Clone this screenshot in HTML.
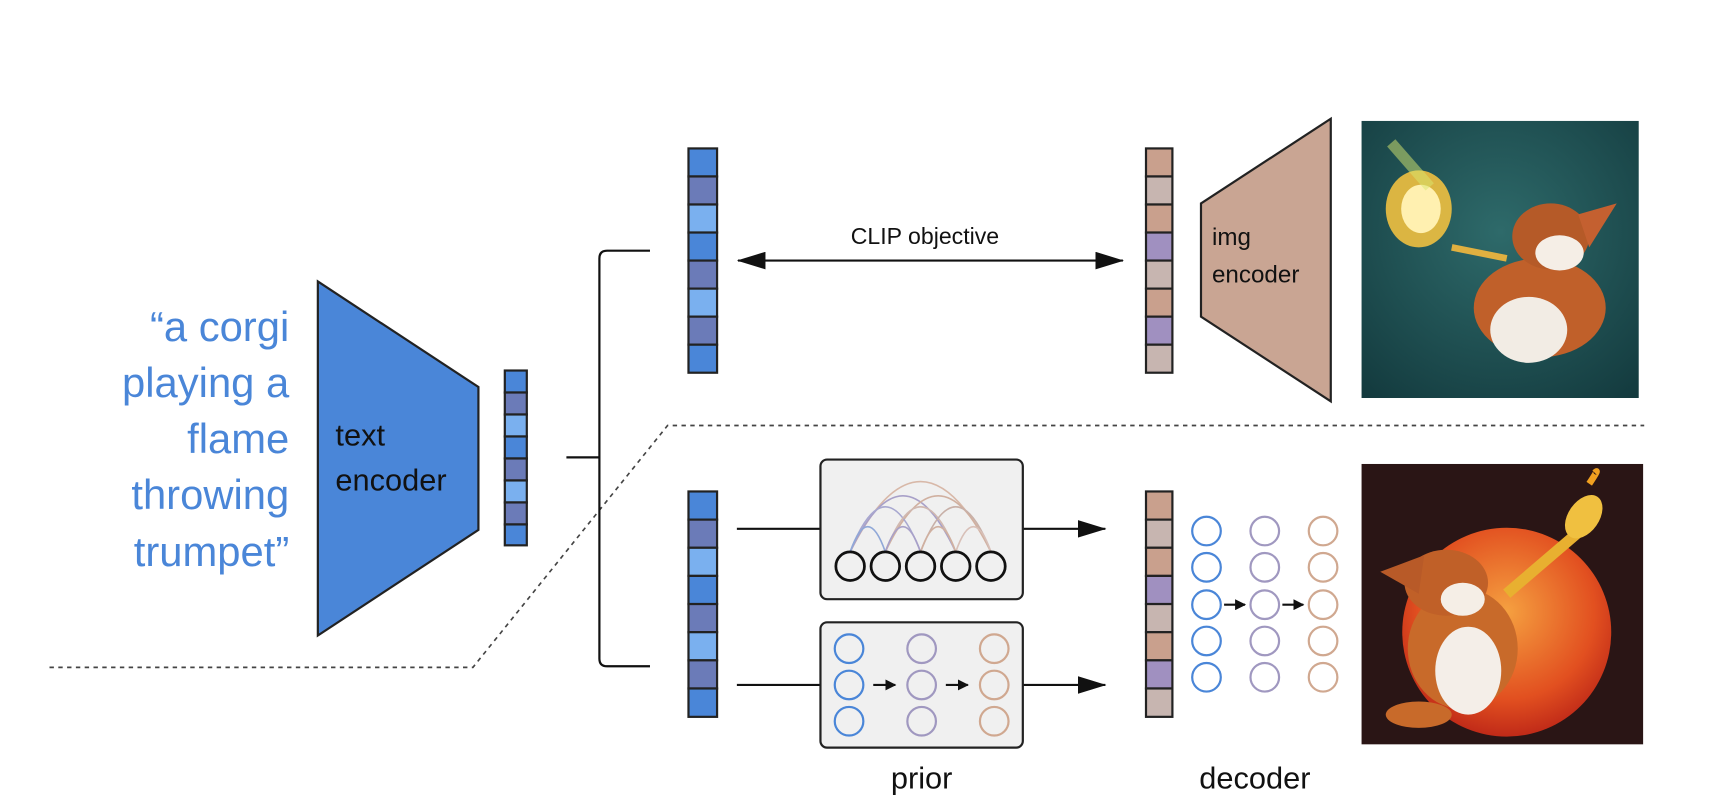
<!DOCTYPE html>
<html><head><meta charset="utf-8"><style>
html,body{margin:0;padding:0;background:#fff;}
svg{display:block;}
text{font-family:"Liberation Sans","DejaVu Sans",sans-serif;}
</style></head><body>
<svg width="1730" height="807" viewBox="0 0 1573 734" preserveAspectRatio="none" xmlns="http://www.w3.org/2000/svg">
<defs>
<marker id="ah" markerWidth="10" markerHeight="10" refX="9" refY="5" orient="auto" markerUnits="userSpaceOnUse"><path d="M0,0 L10,5 L0,10 z" fill="#111"/></marker>
<marker id="big" markerWidth="26" markerHeight="16" refX="25" refY="8" orient="auto-start-reverse" markerUnits="userSpaceOnUse"><path d="M0,0 L26,8 L0,16 z" fill="#111"/></marker>
<radialGradient id="teal" cx="0.5" cy="0.4" r="0.8"><stop offset="0" stop-color="#2e6a6a"/><stop offset="1" stop-color="#12383c"/></radialGradient>
<radialGradient id="sun" cx="0.5" cy="0.4" r="0.6"><stop offset="0" stop-color="#f5a040"/><stop offset="0.7" stop-color="#e25020"/><stop offset="1" stop-color="#c02a18"/></radialGradient>
</defs>

<path d="M45,607 L430,607 L607,387 L1495,387" fill="none" stroke="#444" stroke-width="1.5" stroke-dasharray="4,4"/>

<g fill="#4a86d8" font-size="38" text-anchor="end">
<text x="263" y="310">“a corgi</text>
<text x="263" y="361">playing a</text>
<text x="263" y="412">flame</text>
<text x="263" y="463">throwing</text>
<text x="263" y="515">trumpet”</text>
</g>

<path d="M289,256 L435,352 L435,482 L289,578 Z" fill="#4a86d8" stroke="#222" stroke-width="2"/>
<text x="305" y="405" font-size="28" fill="#111">text</text>
<text x="305" y="446" font-size="28" fill="#111">encoder</text>

<g stroke="#222" stroke-width="2">
<rect x="459" y="337" width="20" height="20" fill="#4a86d8"/>
<rect x="459" y="357" width="20" height="20" fill="#6b7bb8"/>
<rect x="459" y="377" width="20" height="20" fill="#7ab0ef"/>
<rect x="459" y="397" width="20" height="20" fill="#4a86d8"/>
<rect x="459" y="417" width="20" height="20" fill="#6b7bb8"/>
<rect x="459" y="437" width="20" height="20" fill="#7ab0ef"/>
<rect x="459" y="457" width="20" height="20" fill="#6b7bb8"/>
<rect x="459" y="477" width="20" height="19" fill="#4a86d8"/>
</g>

<path d="M515,416 L545,416 M591,228 L552,228 Q545,228 545,235 L545,599 Q545,606 552,606 L591,606" fill="none" stroke="#111" stroke-width="2"/>

<g stroke="#222" stroke-width="2">
<rect x="626" y="135" width="26" height="25.5" fill="#4a86d8"/>
<rect x="626" y="160.5" width="26" height="25.5" fill="#6b7bb8"/>
<rect x="626" y="186" width="26" height="25.5" fill="#7ab0ef"/>
<rect x="626" y="211.5" width="26" height="25.5" fill="#4a86d8"/>
<rect x="626" y="237" width="26" height="25.5" fill="#6b7bb8"/>
<rect x="626" y="262.5" width="26" height="25.5" fill="#7ab0ef"/>
<rect x="626" y="288" width="26" height="25.5" fill="#6b7bb8"/>
<rect x="626" y="313.5" width="26" height="25.5" fill="#4a86d8"/>
</g>

<line x1="671" y1="237" x2="1021" y2="237" stroke="#111" stroke-width="2" marker-start="url(#big)" marker-end="url(#big)"/>
<text x="841" y="222" font-size="21" fill="#111" text-anchor="middle">CLIP objective</text>

<g stroke="#222" stroke-width="2">
<rect x="1042" y="135" width="24" height="25.5" fill="#c9a08d"/>
<rect x="1042" y="160.5" width="24" height="25.5" fill="#c7b5b0"/>
<rect x="1042" y="186" width="24" height="25.5" fill="#c9a08d"/>
<rect x="1042" y="211.5" width="24" height="25.5" fill="#a090c0"/>
<rect x="1042" y="237" width="24" height="25.5" fill="#c7b5b0"/>
<rect x="1042" y="262.5" width="24" height="25.5" fill="#c9a08d"/>
<rect x="1042" y="288" width="24" height="25.5" fill="#a090c0"/>
<rect x="1042" y="313.5" width="24" height="25.5" fill="#c7b5b0"/>
</g>

<path d="M1092,185 L1210,108 L1210,365 L1092,288 Z" fill="#c9a593" stroke="#222" stroke-width="2"/>
<text x="1102" y="223" font-size="22" fill="#111">img</text>
<text x="1102" y="257" font-size="22" fill="#111">encoder</text>

<rect x="1238" y="110" width="252" height="252" fill="url(#teal)"/>
<ellipse cx="1290" cy="190" rx="30" ry="35" fill="#f0c040" opacity="0.9"/>
<ellipse cx="1292" cy="190" rx="18" ry="22" fill="#fff0b0"/>
<path d="M1265,130 L1300,170" stroke="#d8e870" stroke-width="10" opacity="0.5"/>
<ellipse cx="1400" cy="280" rx="60" ry="45" fill="#c0602a"/>
<ellipse cx="1390" cy="300" rx="35" ry="30" fill="#f2ece4"/>
<ellipse cx="1410" cy="215" rx="35" ry="30" fill="#b55a28"/>
<ellipse cx="1418" cy="230" rx="22" ry="16" fill="#f5eee6"/>
<path d="M1435,195 L1470,185 L1445,225 Z" fill="#c46030"/>
<path d="M1320,225 L1370,235" stroke="#e0b040" stroke-width="6"/>

<g stroke="#222" stroke-width="2">
<rect x="626" y="447" width="26" height="25.6" fill="#4a86d8"/>
<rect x="626" y="472.6" width="26" height="25.6" fill="#6b7bb8"/>
<rect x="626" y="498.2" width="26" height="25.6" fill="#7ab0ef"/>
<rect x="626" y="523.8" width="26" height="25.6" fill="#4a86d8"/>
<rect x="626" y="549.4" width="26" height="25.6" fill="#6b7bb8"/>
<rect x="626" y="575" width="26" height="25.6" fill="#7ab0ef"/>
<rect x="626" y="600.6" width="26" height="25.6" fill="#6b7bb8"/>
<rect x="626" y="626.2" width="26" height="25.8" fill="#4a86d8"/>
</g>

<g stroke="#111" stroke-width="2" fill="none">
<line x1="670" y1="481" x2="746" y2="481"/>
<line x1="670" y1="623" x2="746" y2="623"/>
<line x1="930" y1="481" x2="1005" y2="481" marker-end="url(#big)"/>
<line x1="930" y1="623" x2="1005" y2="623" marker-end="url(#big)"/>
</g>

<rect x="746" y="418" width="184" height="127" rx="6" fill="#f0f0f0" stroke="#222" stroke-width="2"/>
<g fill="none" stroke-width="1.5">
<path d="M773,502 Q837,374 901,502" stroke="#d8b8a8"/>
<path d="M773,502 Q821,400 869,502" stroke="#a8a0c8"/>
<path d="M805,502 Q853,400 901,502" stroke="#d0b0a0"/>
<path d="M773,502 Q805,420 837,502" stroke="#a8a8d0"/>
<path d="M805,502 Q837,420 869,502" stroke="#d0b8b0"/>
<path d="M837,502 Q869,420 901,502" stroke="#c8b0a8"/>
<path d="M773,502 Q789,456 805,502" stroke="#90a8d8"/>
<path d="M805,502 Q821,456 837,502" stroke="#a8a0c8"/>
<path d="M837,502 Q853,456 869,502" stroke="#d0b0a0"/>
<path d="M869,502 Q885,456 901,502" stroke="#d8c0b8"/>
</g>
<g fill="none" stroke="#111" stroke-width="2.5">
<circle cx="773" cy="515" r="13"/><circle cx="805" cy="515" r="13"/><circle cx="837" cy="515" r="13"/><circle cx="869" cy="515" r="13"/><circle cx="901" cy="515" r="13"/>
</g>

<rect x="746" y="566" width="184" height="114" rx="6" fill="#f0f0f0" stroke="#222" stroke-width="2"/>
<g fill="none" stroke-width="2">
<g stroke="#4a86d8"><circle cx="772" cy="590" r="13"/><circle cx="772" cy="623" r="13"/><circle cx="772" cy="656" r="13"/></g>
<g stroke="#a098c0"><circle cx="838" cy="590" r="13"/><circle cx="838" cy="623" r="13"/><circle cx="838" cy="656" r="13"/></g>
<g stroke="#d0a890"><circle cx="904" cy="590" r="13"/><circle cx="904" cy="623" r="13"/><circle cx="904" cy="656" r="13"/></g>
<line x1="794" y1="623" x2="814" y2="623" stroke="#111" marker-end="url(#ah)"/>
<line x1="860" y1="623" x2="880" y2="623" stroke="#111" marker-end="url(#ah)"/>
</g>

<g stroke="#222" stroke-width="2">
<rect x="1042" y="447" width="24" height="25.6" fill="#c9a08d"/>
<rect x="1042" y="472.6" width="24" height="25.6" fill="#c7b5b0"/>
<rect x="1042" y="498.2" width="24" height="25.6" fill="#c9a08d"/>
<rect x="1042" y="523.8" width="24" height="25.6" fill="#a090c0"/>
<rect x="1042" y="549.4" width="24" height="25.6" fill="#c7b5b0"/>
<rect x="1042" y="575" width="24" height="25.6" fill="#c9a08d"/>
<rect x="1042" y="600.6" width="24" height="25.6" fill="#a090c0"/>
<rect x="1042" y="626.2" width="24" height="25.8" fill="#c7b5b0"/>
</g>

<g fill="none" stroke-width="2">
<g stroke="#4a86d8"><circle cx="1097" cy="483" r="13"/><circle cx="1097" cy="516" r="13"/><circle cx="1097" cy="550" r="13"/><circle cx="1097" cy="583" r="13"/><circle cx="1097" cy="616" r="13"/></g>
<g stroke="#a098c0"><circle cx="1150" cy="483" r="13"/><circle cx="1150" cy="516" r="13"/><circle cx="1150" cy="550" r="13"/><circle cx="1150" cy="583" r="13"/><circle cx="1150" cy="616" r="13"/></g>
<g stroke="#d0a890"><circle cx="1203" cy="483" r="13"/><circle cx="1203" cy="516" r="13"/><circle cx="1203" cy="550" r="13"/><circle cx="1203" cy="583" r="13"/><circle cx="1203" cy="616" r="13"/></g>
<line x1="1113" y1="550" x2="1132" y2="550" stroke="#111" marker-end="url(#ah)"/>
<line x1="1166" y1="550" x2="1185" y2="550" stroke="#111" marker-end="url(#ah)"/>
</g>

<text x="838" y="717" font-size="28" fill="#111" text-anchor="middle">prior</text>
<text x="1141" y="717" font-size="28" fill="#111" text-anchor="middle">decoder</text>

<rect x="1238" y="422" width="256" height="255" fill="#2a1515"/>
<circle cx="1370" cy="575" r="95" fill="url(#sun)"/>
<ellipse cx="1330" cy="590" rx="50" ry="55" fill="#c86a2a"/>
<ellipse cx="1335" cy="610" rx="30" ry="40" fill="#f4eee8"/>
<ellipse cx="1315" cy="530" rx="38" ry="30" fill="#c06028"/>
<ellipse cx="1330" cy="545" rx="20" ry="15" fill="#f5eee6"/>
<path d="M1255,520 L1295,505 L1290,540 Z" fill="#b85a28"/>
<path d="M1370,540 L1440,480" stroke="#e8b030" stroke-width="10"/>
<ellipse cx="1440" cy="470" rx="14" ry="22" fill="#f0c040" transform="rotate(35 1440 470)"/>
<path d="M1445,440 Q1455,425 1450,430" stroke="#f0a020" stroke-width="6" fill="none"/>
<ellipse cx="1290" cy="650" rx="30" ry="12" fill="#c86a2a"/>
</svg>
</body></html>
